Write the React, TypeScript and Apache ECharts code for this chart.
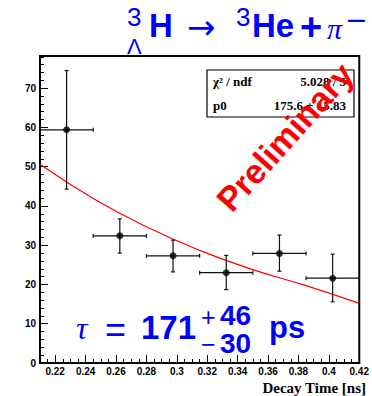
import React, { useEffect, useRef } from "react";
import * as echarts from "echarts";

// ---- data ----
const binLow = [0.21, 0.245, 0.28, 0.315, 0.35, 0.385];
const binHigh = [0.245, 0.28, 0.315, 0.35, 0.385, 0.42];
const binCenter = [0.2275, 0.2625, 0.2975, 0.3325, 0.3675, 0.4025];
const counts = [59.4, 32.4, 27.3, 23.0, 27.9, 21.6];
const errLow = [44.3, 28.0, 23.2, 18.7, 23.4, 15.6];
const errHigh = [74.5, 36.7, 31.3, 27.4, 32.6, 27.7];

const fitX = [0.21, 0.245, 0.28, 0.315, 0.35, 0.385, 0.42];
const fitY = [50.6, 41.9, 34.7, 28.7, 23.8, 19.7, 15.2];

const xMajorTicks = [0.22, 0.24, 0.26, 0.28, 0.3, 0.32, 0.34, 0.36, 0.38, 0.4, 0.42];
const xTickLabels = ["0.22", "0.24", "0.26", "0.28", "0.3", "0.32", "0.34", "0.36", "0.38", "0.4", "0.42"];

const xMinorTicks: number[] = [];
for (let i = 42; i <= 84; i++) xMinorTicks.push(+(i * 0.005).toFixed(3));

const BLUE = "#0000ff";
const SANS = "Liberation Sans, Arial, sans-serif";
const SERIF = "Liberation Serif, Times New Roman, serif";

export default function App() {
  const ref = useRef<HTMLDivElement>(null);
  useEffect(() => {
    const chart = echarts.init(ref.current!, null, { renderer: "svg" });
    const errData = binCenter.map((x, i) => [x, counts[i], errLow[i], errHigh[i], binLow[i], binHigh[i]]);
    const labelMap: Record<string, string> = {};
    xMajorTicks.forEach((v, i) => (labelMap[v.toFixed(2)] = xTickLabels[i]));

    const option: any = {
      animation: false,
      backgroundColor: "#ffffff",
      grid: {
        left: 40,
        right: 7,
        top: 56,
        bottom: 33,
        show: true,
        borderColor: "#000",
        borderWidth: 2,
        backgroundColor: "transparent",
      },
      xAxis: [
        {
          type: "value",
          min: 0.21,
          max: 0.42,
          position: "bottom",
          axisLine: { show: true, onZero: false, lineStyle: { color: "#000", width: 2 } },
          axisTick: {
            show: true,
            inside: true,
            length: 8,
            customValues: xMajorTicks,
            lineStyle: { color: "#000", width: 1 },
          },
          axisLabel: {
            show: true,
            customValues: xMajorTicks,
            formatter: (v: number) => labelMap[v.toFixed(2)] ?? "",
            fontFamily: SANS,
            fontWeight: "bold",
            fontSize: 10,
            color: "#000",
            margin: 3,
          },
          splitLine: { show: false },
        },
        {
          type: "value",
          min: 0.21,
          max: 0.42,
          position: "bottom",
          axisLine: { show: false, onZero: false },
          axisTick: {
            show: true,
            inside: true,
            length: 4,
            customValues: xMinorTicks,
            lineStyle: { color: "#000", width: 1 },
          },
          axisLabel: { show: false },
          splitLine: { show: false },
        },
      ],
      yAxis: {
        type: "value",
        min: 0,
        max: 78.2,
        interval: 10,
        axisLine: { show: true, onZero: false, lineStyle: { color: "#000", width: 2 } },
        axisTick: { show: true, inside: true, length: 8, lineStyle: { color: "#000", width: 1 } },
        minorTick: { show: true, splitNumber: 5, length: 4, lineStyle: { color: "#000", width: 1 } },
        axisLabel: {
          fontFamily: SANS,
          fontWeight: "bold",
          fontSize: 10,
          color: "#000",
          margin: 4,
          showMaxLabel: false,
        },
        splitLine: { show: false },
      },
      series: [
        {
          type: "line",
          data: fitX.map((x, i) => [x, fitY[i]]),
          smooth: true,
          showSymbol: false,
          lineStyle: { color: "#ff0000", width: 1.2 },
          z: 2,
        },
        {
          type: "custom",
          data: errData,
          z: 3,
          renderItem: (params: any, api: any) => {
            const x = api.value(0);
            const y = api.value(1);
            const lo = api.value(2);
            const hi = api.value(3);
            const xl = api.value(4);
            const xr = api.value(5);
            const pL = api.coord([xl, y]);
            const pR = api.coord([xr, y]);
            const pT = api.coord([x, hi]);
            const pB = api.coord([x, lo]);
            const st = { stroke: "#111", lineWidth: 1.2 };
            const c = 2;
            return {
              type: "group",
              children: [
                { type: "line", shape: { x1: pL[0], y1: pL[1], x2: pR[0], y2: pR[1] }, style: st },
                { type: "line", shape: { x1: pT[0], y1: pT[1], x2: pB[0], y2: pB[1] }, style: st },
                { type: "line", shape: { x1: pL[0], y1: pL[1] - c, x2: pL[0], y2: pL[1] + c }, style: st },
                { type: "line", shape: { x1: pR[0], y1: pR[1] - c, x2: pR[0], y2: pR[1] + c }, style: st },
                { type: "line", shape: { x1: pT[0] - c, y1: pT[1], x2: pT[0] + c, y2: pT[1] }, style: st },
                { type: "line", shape: { x1: pB[0] - c, y1: pB[1], x2: pB[0] + c, y2: pB[1] }, style: st },
              ],
            };
          },
        },
        {
          type: "scatter",
          data: binCenter.map((x, i) => [x, counts[i]]),
          symbol: "circle",
          symbolSize: 7,
          itemStyle: { color: "#000" },
          z: 4,
        },
      ],
      graphic: [
        // stats box
        {
          type: "rect",
          z: 100,
          shape: { x: 207, y: 70, width: 147, height: 47 },
          style: { fill: "#fff", stroke: "#000", lineWidth: 1.2 },
        },
        { type: "text", z: 101, x: 213, y: 81, style: { text: "χ² / ndf", font: `bold 13px ${SERIF}`, fill: "#000", verticalAlign: "middle" } },
        { type: "text", z: 101, x: 346, y: 81, style: { text: "5.028 / 5", font: `bold 13px ${SERIF}`, fill: "#000", align: "right", verticalAlign: "middle" } },
        { type: "text", z: 101, x: 213, y: 105, style: { text: "p0", font: `bold 13px ${SERIF}`, fill: "#000", verticalAlign: "middle" } },
        { type: "text", z: 101, x: 346, y: 105, style: { text: "175.6 ± 15.83", font: `bold 13px ${SERIF}`, fill: "#000", align: "right", verticalAlign: "middle" } },
        // Preliminary
        {
          type: "text",
          z: 110,
          x: 285,
          y: 137,
          rotation: (48 * Math.PI) / 180,
          style: { text: "Preliminary", font: `bold 34px ${SANS}`, fill: "#ff0000", align: "center", verticalAlign: "middle" },
        },
        // title
        { type: "text", z: 101, x: 127, y: 17, style: { text: "3", font: `26px ${SANS}`, fill: BLUE, verticalAlign: "middle" } },
        { type: "text", z: 101, x: 127, y: 46, style: { text: "Λ", font: `22px ${SANS}`, fill: BLUE, verticalAlign: "middle" } },
        { type: "text", z: 101, x: 149, y: 25, style: { text: "H", font: `bold 33px ${SANS}`, fill: BLUE, verticalAlign: "middle" } },
        { type: "text", z: 101, x: 187, y: 27, style: { text: "→", font: `34px DejaVu Sans, sans-serif`, fill: BLUE, verticalAlign: "middle" } },
        { type: "text", z: 101, x: 236, y: 17, style: { text: "3", font: `26px ${SANS}`, fill: BLUE, verticalAlign: "middle" } },
        { type: "text", z: 101, x: 252, y: 25, style: { text: "He", font: `bold 33px ${SANS}`, fill: BLUE, verticalAlign: "middle" } },
        { type: "text", z: 101, x: 300, y: 27, style: { text: "+", font: `bold 38px ${SANS}`, fill: BLUE, verticalAlign: "middle" } },
        { type: "text", z: 101, x: 327, y: 28, style: { text: "π", font: `italic 30px ${SERIF}`, fill: BLUE, verticalAlign: "middle" } },
        { type: "text", z: 101, x: 345, y: 19, style: { text: "−", font: `27px DejaVu Sans, sans-serif`, fill: BLUE, verticalAlign: "middle" } },
        // tau
        { type: "text", z: 101, x: 76, y: 328, style: { text: "τ", font: `italic 32px ${SERIF}`, fill: BLUE, verticalAlign: "middle" } },
        { type: "text", z: 101, x: 105, y: 329, style: { text: "=", font: `36px ${SANS}`, fill: BLUE, verticalAlign: "middle" } },
        { type: "text", z: 101, x: 141, y: 327, style: { text: "171", font: `bold 33px ${SANS}`, fill: BLUE, verticalAlign: "middle" } },
        { type: "text", z: 101, x: 201, y: 317, style: { text: "+", font: `25px ${SANS}`, fill: BLUE, verticalAlign: "middle" } },
        { type: "text", z: 101, x: 220, y: 315, style: { text: "46", font: `bold 28px ${SANS}`, fill: BLUE, verticalAlign: "middle" } },
        { type: "text", z: 101, x: 201, y: 344, style: { text: "−", font: `25px ${SANS}`, fill: BLUE, verticalAlign: "middle" } },
        { type: "text", z: 101, x: 220, y: 343, style: { text: "30", font: `bold 28px ${SANS}`, fill: BLUE, verticalAlign: "middle" } },
        { type: "text", z: 101, x: 269, y: 327, style: { text: "ps", font: `bold 31px ${SANS}`, fill: BLUE, verticalAlign: "middle" } },
        // x axis title
        { type: "text", z: 101, x: 366, y: 388, style: { text: "Decay Time [ns]", font: `bold 15px ${SERIF}`, fill: "#000", align: "right", verticalAlign: "middle" } },
      ],
    };
    chart.setOption(option);
    return () => chart.dispose();
  }, []);
  return <div ref={ref} style={{ position: "fixed", left: 0, top: 0, width: 372, height: 396 }} />;
}
